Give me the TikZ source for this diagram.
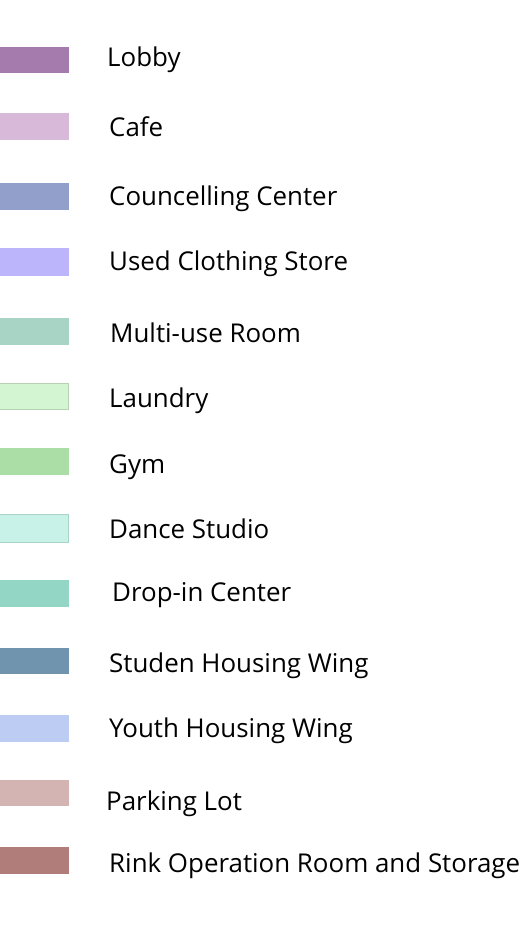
\documentclass[tikz,border=0pt]{standalone}
\usepackage{fontspec}
\setmainfont{Open Sans}
\definecolor{cLobby}{HTML}{A57BAE}
\definecolor{cCafe}{HTML}{D8B9D9}
\definecolor{cCoun}{HTML}{939FCB}
\definecolor{cUsed}{HTML}{BCB5FC}
\definecolor{cMulti}{HTML}{A8D4C6}
\definecolor{cLaundry}{HTML}{D3F5D2}
\definecolor{cLaundryB}{HTML}{B5D3B3}
\definecolor{cGym}{HTML}{ABDEA6}
\definecolor{cDance}{HTML}{C8F2E8}
\definecolor{cDanceB}{HTML}{A9D2C8}
\definecolor{cDrop}{HTML}{93D6C6}
\definecolor{cStud}{HTML}{7094AE}
\definecolor{cYouth}{HTML}{BCCCF2}
\definecolor{cPark}{HTML}{D4B3B3}
\definecolor{cRink}{HTML}{B07D7B}
\tikzset{
  lbl/.style={anchor=base west, inner sep=0pt, font=\fontsize{25.9}{29}\selectfont, text=black}
}
\begin{document}
\begin{tikzpicture}[x=1pt,y=-1pt]
\useasboundingbox (0,0) rectangle (520,951);
\fill[white] (0,0) rectangle (520,951);
% swatches
\fill[cLobby] (0,47) rectangle (69,73);
\fill[cCafe] (0,113) rectangle (69,140);
\fill[cCoun] (0,183) rectangle (69,210);
\fill[cUsed] (0,248) rectangle (69,276);
\fill[cMulti] (0,318) rectangle (69,345);
\filldraw[fill=cLaundry, draw=cLaundryB, line width=0.8pt] (-1,383) rectangle (68,409);
\fill[cGym] (0,448) rectangle (69,475);
\filldraw[fill=cDance, draw=cDanceB, line width=0.8pt] (-1,514) rectangle (68,542);
\fill[cDrop] (0,580) rectangle (69,607);
\fill[cStud] (0,648) rectangle (69,674);
\fill[cYouth] (0,715) rectangle (69,742);
\fill[cPark] (0,780) rectangle (69,806);
\fill[cRink] (0,847) rectangle (69,874);
% labels
\node[lbl] (t1) at (107,66) {Lobby};
\node[lbl] (t2) at (109,136) {Cafe};
\node[lbl] (t3) at (109,205) {Councelling Center};
\node[lbl] (t4) at (109,270) {Used Clothing Store};
\node[lbl] (t5) at (110,342) {Multi-use Room};
\node[lbl] (t6) at (109,407) {Laundry};
\node[lbl] (t7) at (109,473) {Gym};
\node[lbl] (t8) at (109,538) {Dance Studio};
\node[lbl] (t9) at (112,601) {Drop-in Center};
\node[lbl] (t10) at (109,672) {Studen Housing Wing};
\node[lbl] (t11) at (109,737) {Youth Housing Wing};
\node[lbl] (t12) at (106,810) {Parking Lot};
\node[lbl] (t13) at (109,872) {Rink Operation Room and Storage};
\end{tikzpicture}
\end{document}
